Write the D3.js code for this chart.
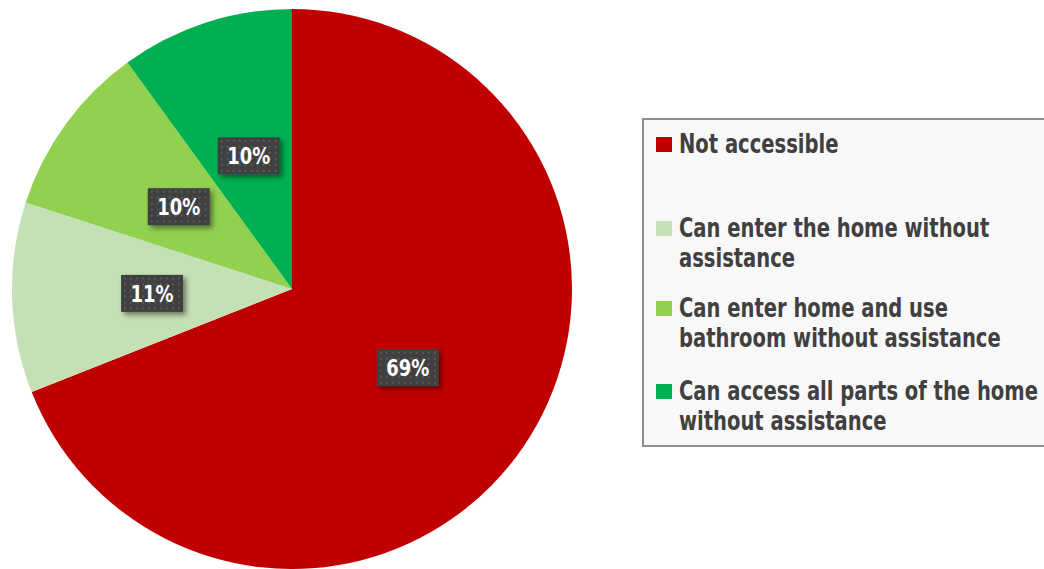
<!DOCTYPE html>
<html>
<head>
<meta charset="utf-8">
<script src="https://cdn.jsdelivr.net/npm/d3@7"></script>
<style>
  body { margin: 0; background: #fff; }
  svg { display: block; }
</style>
</head>
<body>
<div id="chart"></div>
<script>
// dane
const categories = [
  "Not accessible",
  "Can enter the home without assistance",
  "Can enter home and use bathroom without assistance",
  "Can access all parts of the home without assistance"
];
const values = [69, 11, 10, 10];
const labels = ["69%", "11%", "10%", "10%"];
// legend lines as wrapped in the original
const legendLines = [
  ["Not accessible"],
  ["Can enter the home without", "assistance"],
  ["Can enter home and use", "bathroom without assistance"],
  ["Can access all parts of the home", "without assistance"]
];
const colors = ["#c00000", "#c5e0b4", "#92d050", "#00b050"];

const width = 1044;
const height = 569;
const font = "'DejaVu Sans Condensed', 'DejaVu Sans', sans-serif";

const svg = d3.select("#chart")
  .append("svg")
  .attr("width", width)
  .attr("height", height);

const defs = svg.append("defs");

// kropkowany wzor pod etykietami
const pat = defs.append("pattern")
  .attr("id", "dots")
  .attr("width", 6)
  .attr("height", 6)
  .attr("patternUnits", "userSpaceOnUse");
pat.append("rect").attr("width", 6).attr("height", 6).attr("fill", "#404040");
pat.append("rect").attr("x", 2).attr("y", 2).attr("width", 2).attr("height", 2).attr("fill", "#585858");

const shadow = defs.append("filter")
  .attr("id", "shadow")
  .attr("x", "-30%").attr("y", "-30%")
  .attr("width", "160%").attr("height", "160%");
shadow.append("feDropShadow")
  .attr("dx", 3).attr("dy", 3)
  .attr("stdDeviation", 2.5)
  .attr("flood-color", "#000")
  .attr("flood-opacity", 0.45);

const cx = 292, cy = 289, r = 280;

const color = d3.scaleOrdinal().domain(categories).range(colors);

const pie = d3.pie().sort(null).value(d => d.value);
const data = categories.map((c, i) => ({ name: c, value: values[i], label: labels[i] }));
const arcs = pie(data);

const arc = d3.arc().innerRadius(0).outerRadius(r);

const g = svg.append("g").attr("transform", `translate(${cx},${cy})`);

g.selectAll("path")
  .data(arcs)
  .join("path")
  .attr("d", arc)
  .attr("fill", d => color(d.data.name));

// etykiety z procentami
const boxW = 62, boxH = 37;
const lab = g.selectAll("g.lab")
  .data(arcs)
  .join("g")
  .attr("class", "lab")
  .attr("transform", d => {
    const [x, y] = arc.centroid(d);
    return `translate(${x},${y})`;
  });

lab.append("rect")
  .attr("x", -boxW / 2)
  .attr("y", -boxH / 2)
  .attr("width", boxW)
  .attr("height", boxH)
  .attr("fill", "url(#dots)")
  .attr("filter", "url(#shadow)");

const labText = lab.append("text")
  .attr("text-anchor", "middle")
  .attr("dy", "0.36em")
  .attr("fill", "#fff")
  .attr("font-family", font)
  .attr("font-weight", "bold")
  .attr("font-size", 23)
  .text(d => d.data.label);

// zwezenie tekstu (brak czcionki condensed jak w oryginale)
labText.attr("transform", function () {
  const w = this.getComputedTextLength();
  return `scale(${43 / w},1)`;
});

// legenda
const legend = svg.append("g");
legend.append("rect")
  .attr("x", 643)
  .attr("y", 119)
  .attr("width", 420)
  .attr("height", 327)
  .attr("fill", "#f8f8f8")
  .attr("stroke", "#8c8c8c")
  .attr("stroke-width", 2);

const baselines = [153, 237, 317, 400];
const lineGap = 30;
const textX = 679;

const item = legend.selectAll("g.item")
  .data(categories)
  .join("g")
  .attr("class", "item");

item.append("rect")
  .attr("x", 656)
  .attr("y", (d, i) => baselines[i] - 16)
  .attr("width", 16)
  .attr("height", 15)
  .attr("fill", d => color(d));

const legText = item.append("text")
  .attr("font-family", font)
  .attr("font-weight", "bold")
  .attr("font-size", 27)
  .attr("fill", "#404040");

legText.selectAll("tspan")
  .data((d, i) => legendLines[i].map((t, j) => ({ t, j, i })))
  .join("tspan")
  .attr("x", textX)
  .attr("y", d => baselines[d.i] + d.j * lineGap)
  .text(d => d.t);

// skala pozioma wg najdluzszej linii (359 px w oryginale)
const probe = legend.append("text")
  .attr("font-family", font)
  .attr("font-weight", "bold")
  .attr("font-size", 27)
  .text(legendLines[3][0]);
const sx = 359 / probe.node().getComputedTextLength();
probe.remove();
legText.attr("transform", `translate(${textX},0) scale(${sx},1) translate(${-textX},0)`);
</script>
</body>
</html>
